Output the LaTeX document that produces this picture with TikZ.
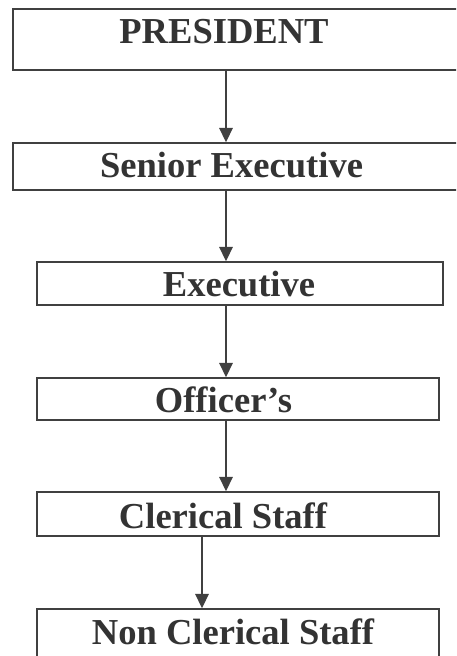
\documentclass[tikz,border=0pt]{standalone}
\usepackage{fontspec}
\setmainfont{Liberation Serif}
\usetikzlibrary{arrows.meta}

\begin{document}
\begin{tikzpicture}[
  rank/.style={draw=black!75, line width=1.1pt, inner sep=0pt},
  title/.style={anchor=base, inner sep=0pt, text=black!80, font=\fontsize{26}{30}\selectfont\bfseries},
  link/.style={draw=black!75, line width=1.0pt, -{Triangle[width=0.340cm, length=0.360cm]}}
]
\useasboundingbox (0.000,0.000) rectangle (11.400,-16.400);
\clip (0.000,0.000) rectangle (11.400,-16.400);
% boxes
\node[rank, minimum width=11.425cm, minimum height=1.525cm] (president) at (6.038,-0.988) {};
\node[rank, minimum width=11.425cm, minimum height=1.175cm] (senior) at (6.038,-4.163) {};
\node[rank, minimum width=10.150cm, minimum height=1.075cm] (executive) at (6.000,-7.088) {};
\node[rank, minimum width=10.050cm, minimum height=1.050cm] (officer) at (5.950,-9.975) {};
\node[rank, minimum width=10.050cm, minimum height=1.100cm] (clerical) at (5.950,-12.850) {};
\node[rank, minimum width=10.050cm, minimum height=1.775cm] (nonclerical) at (5.950,-16.113) {};
% labels
\node[title] (president-t) at (5.600,-1.100) {PRESIDENT};
\node[title] (senior-t) at (5.788,-4.450) {Senior Executive};
\node[title] (executive-t) at (5.975,-7.420) {Executive};
\node[title] (officer-t) at (5.588,-10.320) {Officer's};
\node[title] (clerical-t) at (5.575,-13.200) {Clerical Staff};
\node[title] (nonclerical-t) at (5.825,-16.100) {Non Clerical Staff};
% arrows
\coordinate (mid) at (5.650,0.000);
\coordinate (low) at (5.050,0.000);
\draw[link] (president.south -| mid) -- (senior.north -| mid);
\draw[link] (senior.south -| mid) -- (executive.north -| mid);
\draw[link] (executive.south -| mid) -- (officer.north -| mid);
\draw[link] (officer.south -| mid) -- (clerical.north -| mid);
\draw[link] (clerical.south -| low) -- (nonclerical.north -| low);
\end{tikzpicture}
\end{document}
